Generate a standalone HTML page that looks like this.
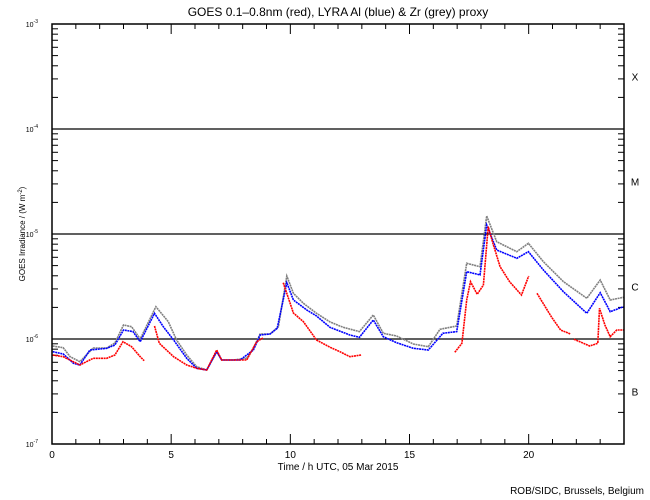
<!DOCTYPE html>
<html><head><meta charset="utf-8"><style>
html,body{margin:0;padding:0;background:#fff;}
svg{display:block;font-family:"Liberation Sans",sans-serif;}
</style></head><body>
<svg id="chart" width="650" height="500" viewBox="0 0 650 500" xmlns="http://www.w3.org/2000/svg">
<text x="338" y="16" font-size="12" text-anchor="middle">GOES 0.1–0.8nm (red), LYRA Al (blue) &amp; Zr (grey) proxy</text>
<text x="338" y="470" font-size="10" text-anchor="middle">Time / h UTC, 05 Mar 2015</text>
<text x="644" y="494" font-size="10" text-anchor="end">ROB/SIDC, Brussels, Belgium</text>
<text transform="translate(25,234) rotate(-90)" font-size="8" text-anchor="middle">GOES Irradiance / (W m<tspan baseline-shift="super" font-size="6">-2</tspan>)</text>
<g id="axes"></g>
<g id="series"></g>
<rect x="52" y="24" width="572" height="420" fill="none" stroke="#000" stroke-width="1.5"/>
</svg>
<script>
const hourTicks = [0,5,10,15,20];
const decadeTicks = [-3,-4,-5,-6,-7];
const classLetters = ['X','M','C','B'];
const classCenters = [-3.5,-4.5,-5.5,-6.5];
const greyHours = [0.03,0.47,0.76,1.17,1.73,2.3,2.64,3.0,3.34,3.7,4.36,4.88,5.23,5.65,6.07,6.49,6.91,7.12,7.61,8.17,8.45,8.73,9.15,9.5,9.85,10.13,10.55,11.1,11.67,12.22,12.9,13.48,13.9,14.46,15.16,15.79,16.28,16.98,17.4,17.96,18.24,18.66,19.5,19.99,20.62,21.46,22.44,23.0,23.42,23.98];
const greyLog = [-6.067,-6.083,-6.169,-6.216,-6.086,-6.086,-6.038,-5.867,-5.883,-6.0,-5.692,-5.835,-6.010,-6.152,-6.264,-6.295,-6.121,-6.2,-6.2,-6.184,-6.089,-5.952,-5.952,-5.883,-5.4,-5.565,-5.66,-5.755,-5.838,-5.889,-5.930,-5.771,-5.946,-5.971,-6.048,-6.073,-5.908,-5.876,-5.279,-5.311,-4.829,-5.073,-5.169,-5.089,-5.264,-5.454,-5.612,-5.438,-5.629,-5.603];
const blueHours = [0.03,0.47,0.9,1.17,1.59,2.3,2.64,3.0,3.4,3.7,4.3,4.67,5.1,5.65,6.07,6.49,6.91,7.12,7.89,8.45,8.73,9.15,9.45,9.85,10.13,10.69,11.1,11.67,12.5,12.9,13.48,13.9,14.46,15.16,15.79,16.4,16.98,17.4,17.96,18.24,18.66,19.5,19.99,20.62,21.46,22.44,23.0,23.42,23.98];
const blueLog = [-6.121,-6.143,-6.231,-6.248,-6.105,-6.089,-6.057,-5.914,-5.930,-6.026,-5.755,-5.883,-6.010,-6.184,-6.279,-6.295,-6.121,-6.2,-6.2,-6.105,-5.962,-5.952,-5.898,-5.464,-5.629,-5.724,-5.781,-5.890,-5.962,-5.984,-5.819,-5.978,-6.035,-6.089,-6.105,-5.946,-5.930,-5.359,-5.390,-4.914,-5.152,-5.231,-5.169,-5.343,-5.550,-5.755,-5.559,-5.740,-5.692];
const redHours = [0.03,0.47,1.17,1.73,2.3,2.64,2.98,3.34,3.7,3.87,4.05,4.3,4.5,5.1,5.65,6.07,6.49,6.91,7.12,8.17,8.59,8.85,9.2,9.7,10.13,10.55,11.1,11.67,12.08,12.5,12.97,14.0,16.9,17.2,17.4,17.56,17.84,18.1,18.3,18.5,18.8,19.2,19.7,20.0,20.2,20.35,20.95,21.34,21.75,21.82,21.9,22.3,22.56,22.9,22.97,23.2,23.42,23.7,23.98];
const redLog = [-6.152,-6.169,-6.248,-6.184,-6.184,-6.152,-6.026,-6.073,-6.169,-6.207,null,-5.876,-6.041,-6.169,-6.248,-6.279,-6.295,-6.105,-6.2,-6.2,-6.026,-5.990,null,-5.464,-5.752,-5.835,-6.010,-6.079,-6.121,-6.169,-6.152,null,-6.127,-6.041,-5.629,-5.454,-5.574,-5.486,-4.930,-5.089,-5.311,-5.454,-5.581,-5.4,null,-5.565,-5.788,-5.914,-5.952,null,-6.003,-6.041,-6.067,-6.041,-5.708,-5.867,-5.978,-5.914,-5.914];

const X0=52, X1=624, Y0=24, Y1=444;
const xs = h => X0 + (h/24)*(X1-X0);
const ys = lg => Y0 + (-3 - lg)/4*(Y1-Y0);
const NS='http://www.w3.org/2000/svg';
const axes=document.getElementById('axes');
const ser=document.getElementById('series');
function mk(tag, attrs, parent){const e=document.createElementNS(NS,tag);for(const k in attrs)e.setAttribute(k,attrs[k]);parent.appendChild(e);return e;}

for(let h=0;h<=24;h++){
  const major = hourTicks.includes(h);
  const len = major?10:5;
  const x=xs(h);
  const t1=mk('line',{x1:x,x2:x,y1:Y1,y2:Y1-len,stroke:'#000'},axes);
  
  
  const t2=mk('line',{x1:x,x2:x,y1:Y0,y2:Y0+len,stroke:'#000'},axes);
  
  
}
hourTicks.forEach(h=>{
  const t=mk('text',{x:xs(h),y:458,'font-size':10,'text-anchor':'middle'},axes);
  t.textContent=String(h);
  
  
});
for(let d=-7; d<-3; d++){
  for(let m=2;m<=9;m++){
    const y=ys(d+Math.log10(m));
    const a=mk('line',{x1:X0,x2:X0+6,y1:y,y2:y,stroke:'#000'},axes);
    
    
    const b=mk('line',{x1:X1,x2:X1-6,y1:y,y2:y,stroke:'#000'},axes);
    
    
  }
}
decadeTicks.forEach(d=>{
  const y=ys(d);
  const t=mk('text',{x:38,y:y+3,'font-size':7,'text-anchor':'end'},axes);
  t.textContent='10';
  const s=mk('tspan',{'font-size':5,dy:-4},t);
  s.textContent=String(d);
  
  
  if(d<-3 && d>-7){
    const l=mk('line',{x1:X0,x2:X1,y1:y,y2:y,stroke:'#000','stroke-width':1.3},axes);
    
    
  }
});
classLetters.forEach((c,i)=>{
  const t=mk('text',{x:635,y:ys(classCenters[i])+4,'font-size':10,'text-anchor':'middle'},axes);
  t.textContent=c;
  
  
});
function drawSeries(hours, vals, color, name){
  let seg=[];
  const flush=()=>{
    if(seg.length>1){
      const p=mk('polyline',{points:seg.join(' '),fill:'none',stroke:color,'stroke-width':1.6,'stroke-dasharray':'2 0.6'},ser);
      
      
    }
    seg=[];
  };
  hours.forEach((h,i)=>{
    if(vals[i]===null){flush();return;}
    seg.push(xs(h).toFixed(1)+','+ys(vals[i]).toFixed(1));
  });
  flush();
}
drawSeries(greyHours, greyLog, '#808080', 'zr-proxy-grey-series');
drawSeries(blueHours, blueLog, '#0000ff', 'al-proxy-blue-series');
drawSeries(redHours, redLog, '#ff0000', 'goes-red-series');
</script>
</body></html>
